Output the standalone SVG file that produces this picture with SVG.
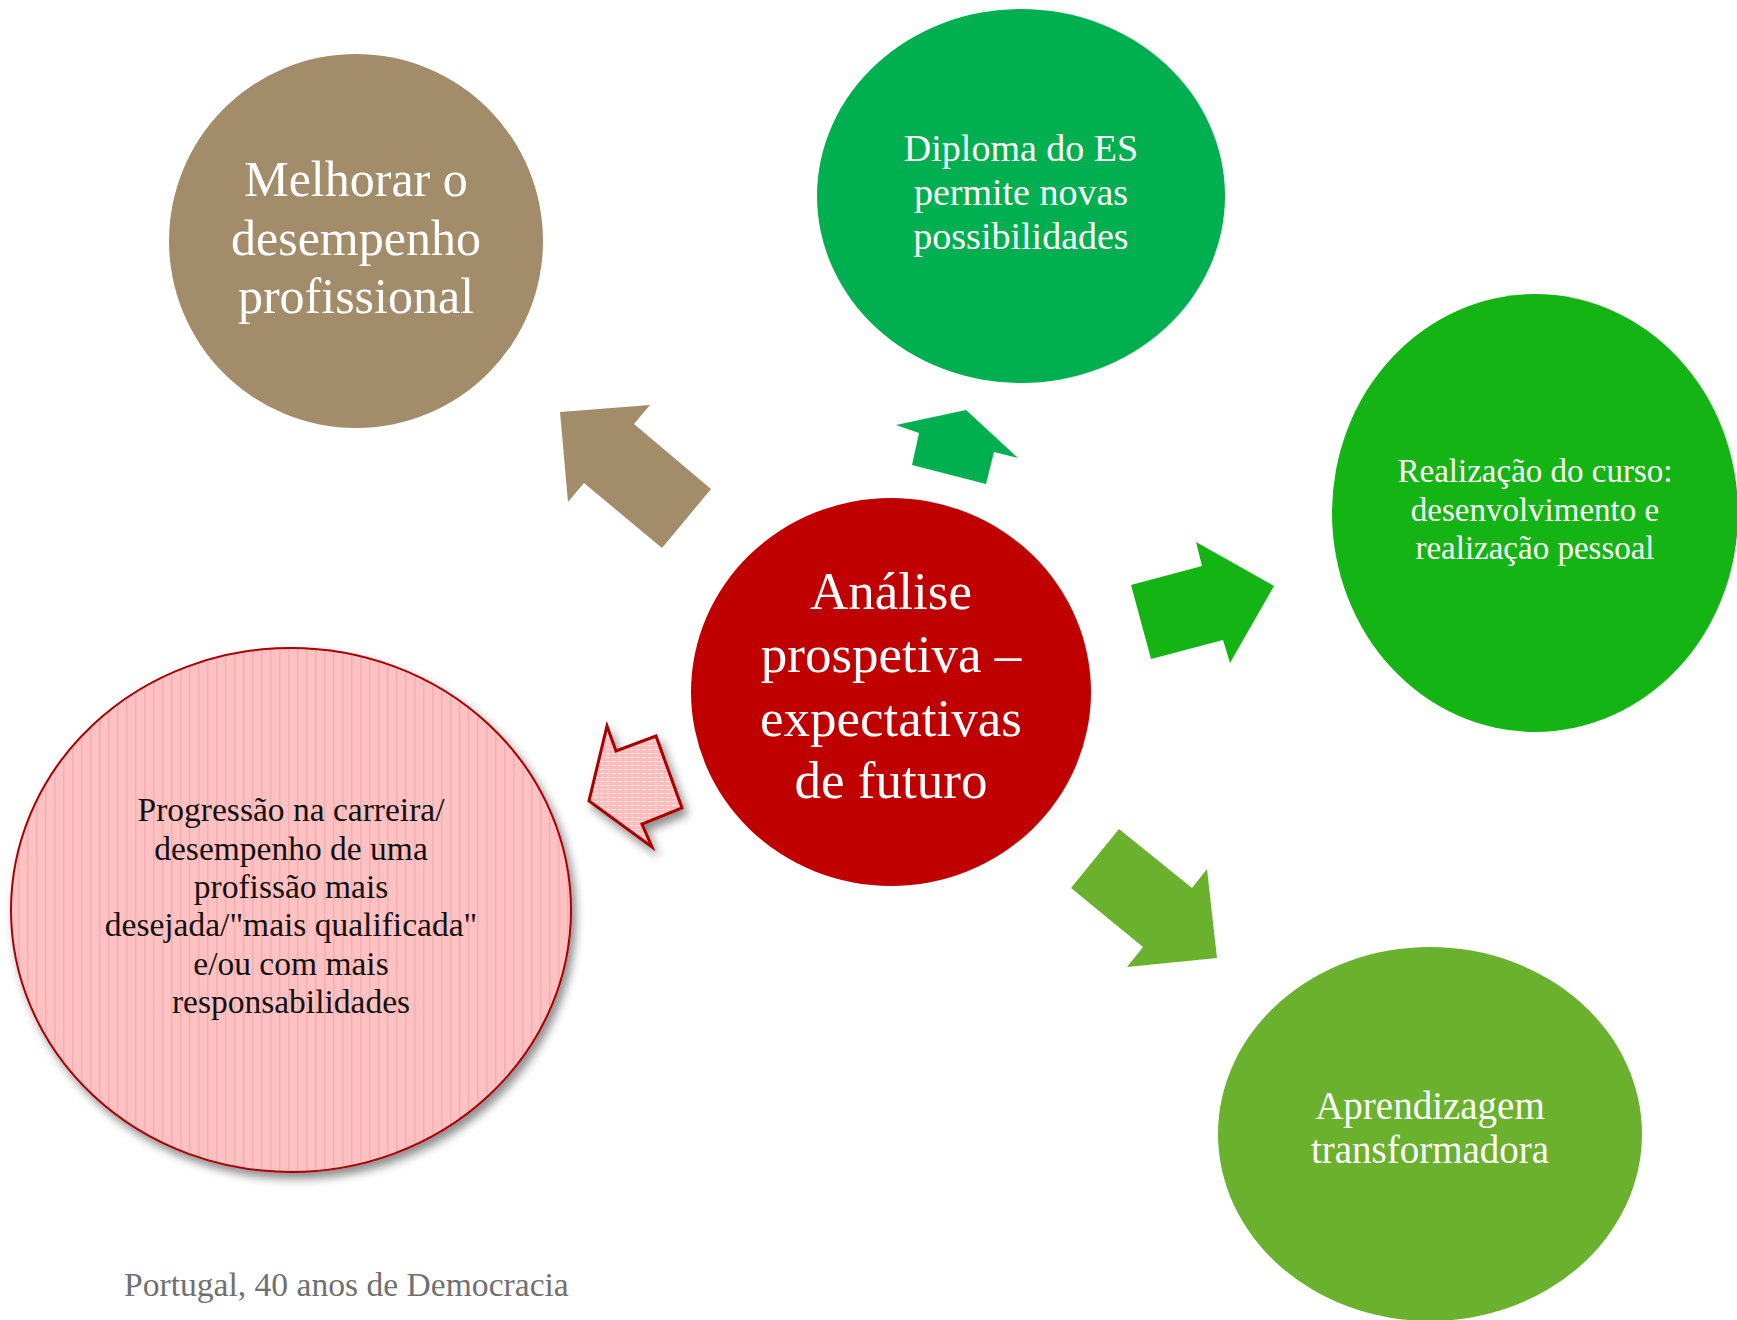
<svg xmlns="http://www.w3.org/2000/svg" width="1737" height="1320" viewBox="0 0 1737 1320">
<defs>
<style>
.t{font-family:"Liberation Serif","DejaVu Serif",serif;text-anchor:middle}
.w{fill:#ffffff}
.k{fill:#111111}
</style>
<pattern id="vstripe" patternUnits="userSpaceOnUse" width="9" height="10">
<rect width="9" height="10" fill="#FFC1C1"/>
<rect x="0" width="1.5" height="10" fill="#F2B0B0"/>
</pattern>
<pattern id="hdash" patternUnits="userSpaceOnUse" width="6" height="4">
<rect width="6" height="4" fill="#FFBDBD"/>
<rect x="0" y="1" width="4" height="1" fill="#FFE6E6"/>
</pattern>
<filter id="sh" x="-10%" y="-10%" width="125%" height="125%">
<feDropShadow dx="4" dy="6" stdDeviation="5" flood-color="#000" flood-opacity="0.45"/>
</filter>
</defs>
<rect width="1737" height="1320" fill="#ffffff"/>
<g id="connectors">
<polygon points="560,412 650,405 634,424 711,489 662,548 584,483 568,502" fill="#A38C6A"/>
<polygon points="896,425 966,410 1018,458 994,452 986,484 912,465 919,433" fill="#00B050"/>
<polygon points="1131,585 1202,566 1196,542 1274,586 1230,663 1223,640 1151,659" fill="#15B415"/>
<polygon points="1119,829 1192,888 1207,869 1217,958 1127,967 1143,947 1071,888" fill="#6AB22E"/>
<polygon points="607,726 616,751 656,736 682,808 642,824 652,847 589,801" fill="url(#hdash)" stroke="#A80000" stroke-width="3" stroke-linejoin="miter" filter="url(#sh)"/>
</g>
<g id="node-melhorar">
<ellipse cx="356" cy="241" rx="187" ry="187" fill="#A38C6A"/>
<text class="t w" font-size="50"><tspan x="356" y="196">Melhorar o</tspan><tspan x="356" y="255">desempenho</tspan><tspan x="356" y="313">profissional</tspan></text>
</g>
<g id="node-diploma">
<ellipse cx="1021" cy="196" rx="204" ry="187" fill="#00B050"/>
<text class="t w" font-size="38"><tspan x="1021" y="161">Diploma do ES</tspan><tspan x="1021" y="205">permite novas</tspan><tspan x="1021" y="249">possibilidades</tspan></text>
</g>
<g id="node-realizacao">
<ellipse cx="1535" cy="513" rx="203" ry="219" fill="#15B415"/>
<text class="t w" font-size="33"><tspan x="1535" y="482">Realização do curso:</tspan><tspan x="1535" y="521">desenvolvimento e</tspan><tspan x="1535" y="559">realização pessoal</tspan></text>
</g>
<g id="node-aprendizagem">
<ellipse cx="1430" cy="1134" rx="212" ry="187" fill="#6AB22E"/>
<text class="t w" font-size="39"><tspan x="1430" y="1119">Aprendizagem</tspan><tspan x="1430" y="1163">transformadora</tspan></text>
</g>
<g id="node-analise">
<ellipse cx="891" cy="692" rx="200" ry="194" fill="#C00000"/>
<text class="t w" font-size="53"><tspan x="891" y="609">Análise</tspan><tspan x="891" y="672">prospetiva –</tspan><tspan x="891" y="736">expectativas</tspan><tspan x="891" y="798">de futuro</tspan></text>
</g>
<g id="node-progressao">
<ellipse cx="291" cy="910" rx="280" ry="262" fill="url(#vstripe)" stroke="#A80000" stroke-width="2" filter="url(#sh)"/>
<text class="t k" font-size="33.5"><tspan x="291" y="821">Progressão na carreira/</tspan><tspan x="291" y="860">desempenho de uma</tspan><tspan x="291" y="898">profissão mais</tspan><tspan x="291" y="936">desejada/"mais qualificada"</tspan><tspan x="291" y="975">e/ou com mais</tspan><tspan x="291" y="1013">responsabilidades</tspan></text>
</g>
<text x="124" y="1296" font-family="Liberation Serif, DejaVu Serif, serif" font-size="33.6" fill="#707070">Portugal, 40 anos de Democracia</text>
</svg>
